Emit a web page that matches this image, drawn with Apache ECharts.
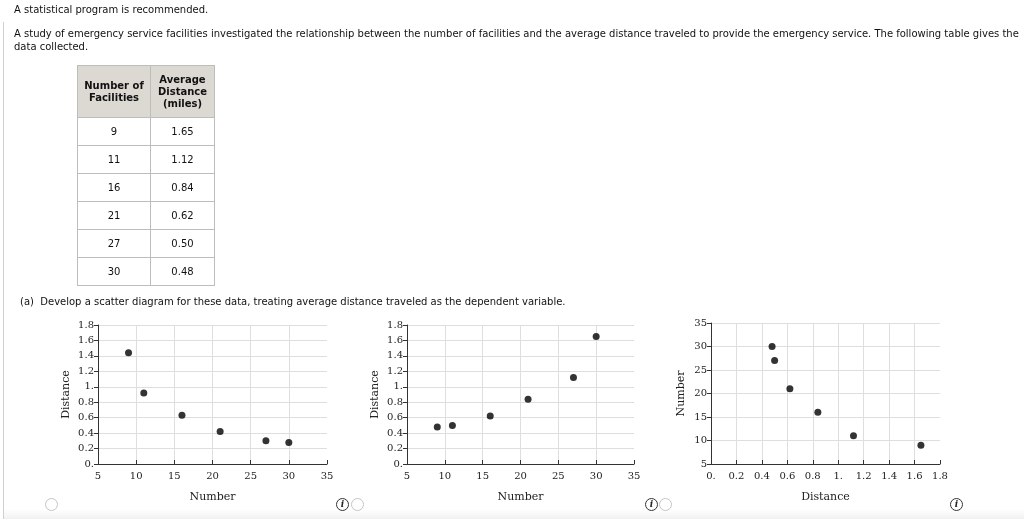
<!DOCTYPE html>
<html>
<head>
<meta charset="utf-8">
<script src="https://cdn.jsdelivr.net/npm/echarts@6/dist/echarts.min.js"></script>
<style>
html,body{margin:0;padding:0;background:#fff;width:1024px;height:519px;overflow:hidden;}
body{font-family:"DejaVu Sans",Verdana,sans-serif;font-size:10px;color:#111;position:relative;}
.abs{position:absolute;}
#chart{position:absolute;left:0;top:0;width:1024px;height:519px;}
#leftline{left:3px;top:22px;width:1px;height:497px;background:#cfcfcf;}
#bottom{left:4px;top:509px;width:1020px;height:10px;background:linear-gradient(#ffffff,#f1f1f1);}
table{border-collapse:collapse;font-size:10px;}
td,th{border:1px solid #bdbdbd;text-align:center;padding:0;}
th{background:#dcd9d3;font-weight:bold;font-size:10px;line-height:12px;height:51px;}
td{height:27px;}
.radio{width:11px;height:11px;border:1px solid #c4c4c4;border-radius:50%;background:#fff;}
.info{width:11px;height:11px;border:1px solid #333;border-radius:50%;font-family:"DejaVu Serif",serif;font-style:italic;font-weight:bold;font-size:9px;line-height:11px;text-align:center;color:#222;}
</style>
</head>
<body>
<div id="leftline" class="abs"></div>
<div id="bottom" class="abs"></div>
<div id="chart"></div>
<div class="abs" style="left:14px;top:4px;">A statistical program is recommended.</div>
<div class="abs" style="left:14px;top:27px;width:1010px;line-height:13px;">A study of emergency service facilities investigated the relationship between the number of facilities and the average distance traveled to provide the emergency service. The following table gives the data collected.</div>
<div class="abs" style="left:77px;top:65px;">
<table id="tbl">
<thead><tr><th style="width:72px;">Number of<br>Facilities</th><th style="width:63px;">Average<br>Distance<br>(miles)</th></tr></thead>
<tbody id="tbody"></tbody>
</table>
</div>
<div class="abs" style="left:20px;top:296px;">(a)&nbsp; Develop a scatter diagram for these data, treating average distance traveled as the dependent variable.</div>
<div class="abs radio" style="left:45px;top:498px;"></div>
<div class="abs info" style="left:336px;top:498px;">i</div>
<div class="abs radio" style="left:351px;top:498px;"></div>
<div class="abs info" style="left:645px;top:498px;">i</div>
<div class="abs radio" style="left:659px;top:498px;"></div>
<div class="abs info" style="left:950px;top:498px;">i</div>
<script>
// table data
const facilities = [9, 11, 16, 21, 27, 30];
const avgDistance = ['1.65', '1.12', '0.84', '0.62', '0.50', '0.48'];
// option 1 scatter (Number vs Distance)
const plot1Number = [9, 11, 16, 21, 27, 30];
const plot1Distance = [1.44, 0.92, 0.63, 0.42, 0.30, 0.28];
// option 2 scatter
const plot2Number = [9, 11, 16, 21, 27, 30];
const plot2Distance = [0.48, 0.50, 0.62, 0.84, 1.12, 1.65];
// option 3 scatter (Distance on x, Number on y)
const plot3Distance = [0.48, 0.50, 0.62, 0.84, 1.12, 1.65];
const plot3Number = [30, 27, 21, 16, 11, 9];

const tb = document.getElementById('tbody');
facilities.forEach((f, i) => {
  const tr = document.createElement('tr');
  tr.innerHTML = '<td>' + f + '</td><td>' + avgDistance[i] + '</td>';
  tb.appendChild(tr);
});

const serif = '"DejaVu Serif", serif';
function distFmt(v) {
  const s = String(+(+v).toFixed(1));
  return s.indexOf('.') < 0 ? s + '.' : s;
}
function axis(gridIndex, opts, isX) {
  return Object.assign({
    type: 'value',
    gridIndex: gridIndex,
    nameLocation: 'middle',
    nameTextStyle: {fontFamily: serif, fontSize: 11, color: '#222'},
    axisLine: {show: true, onZero: false, lineStyle: {color: '#333', width: 1}},
    axisTick: {show: true, inside: !!isX, length: 4, lineStyle: {color: '#333'}},
    axisLabel: {fontFamily: serif, fontSize: 10, color: '#222', margin: isX ? 7 : 4, showMinLabel: true, showMaxLabel: true},
    splitLine: {show: true, showMaxLine: !isX, lineStyle: {color: '#dedede', width: 1}}
  }, opts);
}
const pts = (xs, ys) => xs.map((x, i) => [x, ys[i]]);
const distLabel = (m) => ({fontFamily: serif, fontSize: 10, color: '#222', margin: m, formatter: distFmt});

const chart = echarts.init(document.getElementById('chart'), null, {renderer: 'canvas'});
chart.setOption({
  animation: false,
  grid: [
    {left: 98, top: 325, width: 229, height: 139},
    {left: 407, top: 325, width: 227, height: 139},
    {left: 711, top: 323, width: 229, height: 141}
  ],
  xAxis: [
    axis(0, {min: 5, max: 35, interval: 5, name: 'Number', nameGap: 28}, true),
    axis(1, {min: 5, max: 35, interval: 5, name: 'Number', nameGap: 28}, true),
    axis(2, {min: 0, max: 1.8, interval: 0.2, name: 'Distance', nameGap: 28, axisLabel: distLabel(7)}, true)
  ],
  yAxis: [
    axis(0, {min: 0, max: 1.8, interval: 0.2, name: 'Distance', nameGap: 26, axisLabel: distLabel(4)}),
    axis(1, {min: 0, max: 1.8, interval: 0.2, name: 'Distance', nameGap: 26, axisLabel: distLabel(4)}),
    axis(2, {min: 5, max: 35, interval: 5, name: 'Number', nameGap: 24})
  ],
  series: [
    {type: 'scatter', xAxisIndex: 0, yAxisIndex: 0, data: pts(plot1Number, plot1Distance), symbolSize: 7, itemStyle: {color: '#000'}},
    {type: 'scatter', xAxisIndex: 1, yAxisIndex: 1, data: pts(plot2Number, plot2Distance), symbolSize: 7, itemStyle: {color: '#000'}},
    {type: 'scatter', xAxisIndex: 2, yAxisIndex: 2, data: pts(plot3Distance, plot3Number), symbolSize: 7, itemStyle: {color: '#000'}}
  ]
});
</script>
</body>
</html>
